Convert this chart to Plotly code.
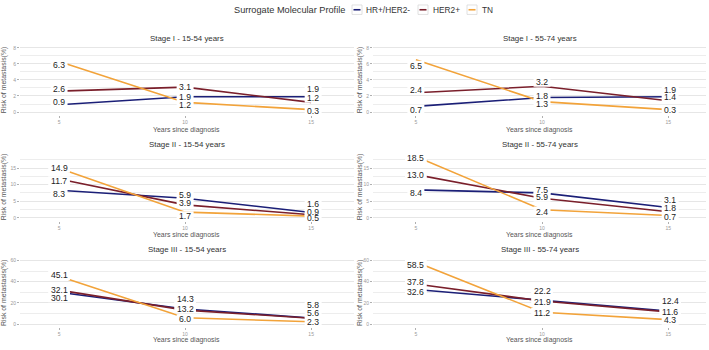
import plotly.graph_objects as go

# ---------------- data ----------------
years = [5, 10, 15]
panel_titles = [
    "Stage I - 15-54 years", "Stage I - 55-74 years",
    "Stage II - 15-54 years", "Stage II - 55-74 years",
    "Stage III - 15-54 years", "Stage III - 55-74 years",
]
series_names = ["HR+/HER2-", "HER2+", "TN"]
hr_pos = [[0.9, 1.9, 1.9], [0.7, 1.8, 1.9], [8.3, 5.9, 1.6],
          [8.4, 7.5, 3.1], [30.1, 14.3, 5.8], [32.6, 22.2, 12.4]]
her2 = [[2.6, 3.1, 1.2], [2.4, 3.2, 1.4], [11.7, 3.9, 0.9],
        [13.0, 5.9, 1.8], [32.1, 13.2, 5.6], [37.8, 21.9, 11.6]]
tn = [[6.3, 1.2, 0.3], [6.5, 1.3, 0.3], [14.9, 1.7, 0.5],
      [18.5, 2.4, 0.7], [45.1, 6.0, 2.3], [58.5, 11.2, 4.3]]
row_tick_step = [2, 5, 20]

# ---------------- styles ----------------
colors = ["#1B1F77", "#7A1F2B", "#F2A33A"]
FONT = "Liberation Sans, Arial, sans-serif"
W, H = 709, 350
LABEL_SIZE = 8.6

# label pixel nudges (repel-like), per panel -> per series -> per point (up = +)
label_nudge = [
    [[2.7, 0, 8], [2.4, 0, 4.3], [-3.6, -3, -1]],
    [[-3.3, 1.1, 6.6], [3, 4.1, 3.5], [-5.9, -2.5, -0.7]],
    [[-3.3, 3.7, 8.9], [-2.3, 2, 3], [0.3, -4, -1.9]],
    [[-3, 3, 7.2], [-0.3, 1, 3.8], [-1.7, -1.7, -1.2]],
    [[-5.4, 9.7, 13.5], [0.5, 1.6, 5.3], [0.9, -1.4, 0]],
    [[-2.5, 9.3, 10.1], [2, -1.4, 0], [-2.4, -0.6, -0.6]],
]

col_px = [(20, 354), (373, 706)]
col_range = [[3.45, 16.7], [3.3, 16.5]]
row_px = [(43.6, 113.9), (152.3, 220.1), (258.4, 327.1)]
row_range = [[-0.4, 8.3], [-0.925, 19.4], [-2.9, 61.5]]
title_py = [37, 143, 249]
xtitle_py = [128.7, 234.3, 340]
ytitle_px = [4, 360]


def fx(px):
    return px / W


def fy(py):
    return 1 - py / H


def text_w(t):
    return sum((0.278 if ch == "." else 0.556) for ch in t) * LABEL_SIZE


fig = go.Figure()
annotations = []
shapes = []
series_data = [hr_pos, her2, tn]

for p in range(6):
    r, c = divmod(p, 2)
    idx = p + 1
    xa = "x" if idx == 1 else f"x{idx}"
    ya = "y" if idx == 1 else f"y{idx}"
    for s in range(3):
        fig.add_trace(go.Scatter(
            x=years, y=series_data[s][p], mode="lines",
            line=dict(color=colors[s], width=1.6),
            name=series_names[s], showlegend=False,
            xaxis=xa, yaxis=ya, hoverinfo="skip"))
    for s in range(3):
        for k in range(3):
            v = series_data[s][p][k]
            t = f"{v:.1f}"
            xs = 2 if k == 2 else 0
            ys = label_nudge[p][s][k]
            hw = text_w(t) / 2 + 2.5
            shapes.append(dict(
                type="rect", xref=xa, yref=ya, layer="above",
                xsizemode="pixel", ysizemode="pixel",
                xanchor=years[k], yanchor=v,
                x0=xs - hw, x1=xs + hw, y0=ys - 4.6, y1=ys + 5.0,
                fillcolor="white", line=dict(width=0)))
            annotations.append(dict(
                x=years[k], y=v, xref=xa, yref=ya,
                text=t, showarrow=False, yshift=ys, xshift=xs,
                font=dict(family=FONT, size=LABEL_SIZE, color="#222222")))

    xkey = "xaxis" if idx == 1 else f"xaxis{idx}"
    ykey = "yaxis" if idx == 1 else f"yaxis{idx}"
    step = row_tick_step[r]
    fig.update_layout({
        xkey: dict(domain=[fx(col_px[c][0]), fx(col_px[c][1])],
                   range=col_range[c], anchor=ya,
                   tickvals=years, ticktext=[str(v) for v in years],
                   showgrid=False, zeroline=False, showline=False,
                   ticks="outside", ticklen=2, tickwidth=0.6, tickcolor="#b0b0b0",
                   tickfont=dict(family=FONT, size=5, color="#9a9a9a")),
        ykey: dict(domain=[fy(row_px[r][1]), fy(row_px[r][0])],
                   range=row_range[r], anchor=xa,
                   tickmode="linear", tick0=0, dtick=step,
                   showgrid=True, gridcolor="#e6e6e6", gridwidth=1,
                   minor=dict(dtick=step / 2, tick0=0, showgrid=True,
                              gridcolor="#ededed", gridwidth=0.7),
                   zeroline=False, showline=False,
                   ticks="outside", ticklen=2, tickwidth=0.6, tickcolor="#b0b0b0",
                   tickfont=dict(family=FONT, size=5, color="#9a9a9a")),
    })

    cx = fx((col_px[c][0] + col_px[c][1]) / 2)
    annotations.append(dict(
        x=cx, y=fy(title_py[r]), xref="paper", yref="paper",
        text=panel_titles[p], showarrow=False, xanchor="center", yanchor="middle",
        font=dict(family=FONT, size=7.9, color="#333333")))
    annotations.append(dict(
        x=cx, y=fy(xtitle_py[r]), xref="paper", yref="paper",
        text="Years since diagnosis", showarrow=False, xanchor="center", yanchor="middle",
        font=dict(family=FONT, size=6.9, color="#555555")))
    annotations.append(dict(
        x=fx(ytitle_px[c]), y=fy((row_px[r][0] + row_px[r][1]) / 2),
        xref="paper", yref="paper", text="Risk of metastasis(%)",
        textangle=-90, showarrow=False, xanchor="center", yanchor="middle",
        font=dict(family=FONT, size=6.9, color="#555555")))

# ---------------- legend (drawn manually) ----------------
annotations.append(dict(
    x=fx(232), y=fy(7.8), xref="paper", yref="paper",
    text="Surrogate Molecular Profile", showarrow=False,
    xanchor="left", yanchor="middle",
    font=dict(family=FONT, size=9.2, color="#333333")))
key_x = [352, 418, 467]
text_x = [364, 430.5, 480]
for s in range(3):
    shapes.append(dict(type="rect", xref="paper", yref="paper",
                       x0=fx(key_x[s]), x1=fx(key_x[s] + 10),
                       y0=fy(12.5), y1=fy(3), line=dict(color="#d8d8d8", width=0.8),
                       fillcolor="white"))
    shapes.append(dict(type="line", xref="paper", yref="paper",
                       x0=fx(key_x[s] + 1.5), x1=fx(key_x[s] + 8.5),
                       y0=fy(7.8), y1=fy(7.8), line=dict(color=colors[s], width=1.6)))
    annotations.append(dict(
        x=fx(text_x[s]), y=fy(7.8), xref="paper", yref="paper",
        text=series_names[s], showarrow=False, xanchor="left", yanchor="middle",
        font=dict(family=FONT, size=8.3, color="#333333")))

fig.update_layout(
    width=W, height=H, margin=dict(l=0, r=0, t=0, b=0),
    paper_bgcolor="white", plot_bgcolor="white",
    showlegend=False, annotations=annotations, shapes=shapes,
)

fig.write_html("out.html")
